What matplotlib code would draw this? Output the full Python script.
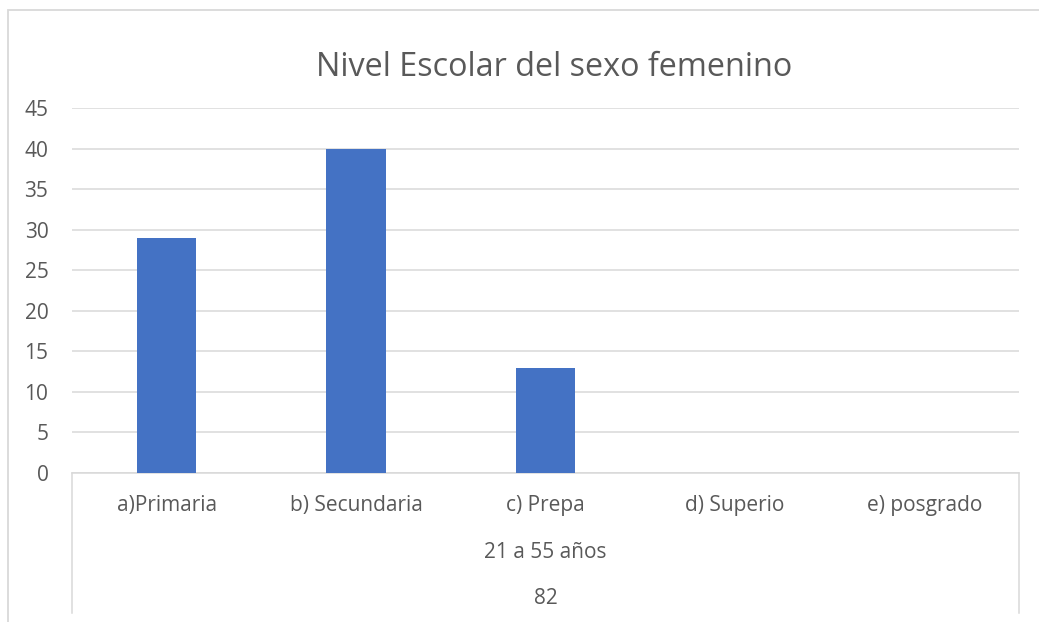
import matplotlib
matplotlib.use("Agg")
import matplotlib.pyplot as plt
from matplotlib.patches import Rectangle
from matplotlib.lines import Line2D

categories = ["a)Primaria", "b) Secundaria", "c) Prepa", "d) Superio", "e) posgrado"]
values = [29, 40, 13, 0, 0]
group_label = "21 a 55 años"
total_label = "82"
title = "Nivel Escolar del sexo femenino"
yticks = [0, 5, 10, 15, 20, 25, 30, 35, 40, 45]

plt.rcParams['font.family'] = ['Open Sans', 'DejaVu Sans']
txt = "#595959"
grid = "#D9D9D9"
fs = 15

W, H = 1039, 622
fig = plt.figure(figsize=(W / 100, H / 100), dpi=100)
ax = fig.add_axes([72 / W, 1 - 473 / H, (1019 - 72) / W, (473 - 108) / H])

x = list(range(len(categories)))
ax.bar(x, values, width=0.313, color="#4472C4", zorder=3)
ax.set_xlim(-0.5, len(categories) - 0.5)
ax.set_ylim(0, 45)
ax.set_yticks(yticks)
ax.set_yticklabels([str(v) for v in yticks], color=txt, fontsize=fs)
ax.tick_params(axis='y', length=0, pad=17)
ax.tick_params(axis='x', length=0)
ax.set_xticks([])
ax.grid(axis='y', color=grid, linewidth=1.1, zorder=0)
for s in ["top", "right", "left"]:
    ax.spines[s].set_visible(False)
ax.spines["bottom"].set_color(grid)
ax.spines["bottom"].set_linewidth(1.1)

# multi-level category labels
for xi, c in zip(x, categories):
    ax.text(xi, -32 / 365 * 45, c, ha='center', va='center', color=txt, fontsize=fs)
ax.text((len(categories) - 1) / 2, -79 / 365 * 45, group_label, ha='center', va='center',
        color=txt, fontsize=fs)
ax.text((len(categories) - 1) / 2, -125 / 365 * 45, total_label, ha='center', va='center',
        color=txt, fontsize=fs)

# vertical separator lines below axis
for xa in [0, 1]:
    ax.add_line(Line2D([xa, xa], [0, -(613 - 473) / 365], transform=ax.transAxes,
                       color=grid, linewidth=1.1, clip_on=False))

# outer chart border
fig.patches.append(Rectangle((8 / W, -0.1), 1.2, 1 - 10 / H + 0.1, transform=fig.transFigure,
                             fill=False, edgecolor=grid, linewidth=1.3))

fig.text(554 / W, 1 - 68 / H, title, ha='center', va='center', color=txt, fontsize=23.3)

fig.savefig("out.png", dpi=100)
